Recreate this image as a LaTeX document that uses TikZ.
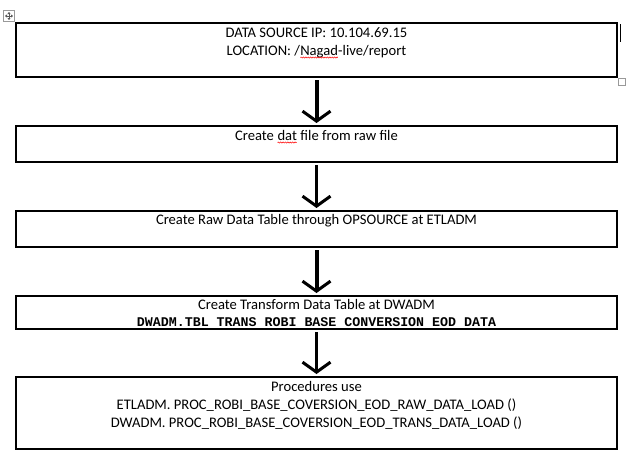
\documentclass[tikz,border=0pt]{standalone}
\usepackage{fontspec}
\setmainfont{Carlito}
\newfontfamily\monobold{Liberation Mono}[BoldFont={* Bold}]
\usetikzlibrary{arrows.meta,decorations.pathmorphing}
\newcommand\redwave[1]{\tikz[baseline=(w.base)]{\node[inner sep=0pt,outer sep=0pt,anchor=base,draw=none] (w) at (0,0) {#1};
  \draw[red, line width=0.5pt, decorate, decoration={snake, amplitude=0.6pt, segment length=2.4pt}] ([yshift=-2.5pt]w.base west) -- ([yshift=-2.5pt]w.base east);}}
\tikzset{
  box/.style={draw=black, line width=1.5pt, minimum width=601pt, anchor=north west, inner sep=0pt, outer sep=0pt},
  txt/.style={font=\fontsize{14.6}{17}\selectfont, anchor=base, inner sep=0pt},
  mono/.style={font=\monobold\bfseries\fontsize{13.3}{16}\selectfont, anchor=base, inner sep=0pt},
  flow/.style={draw=black, -{Straight Barb[length=10pt,width=28pt,line width=3pt]}, shorten <=3pt, shorten >=3pt},
  gbox/.style={draw=gray!80, line width=1pt}
}
\begin{document}
\begin{tikzpicture}[x=1pt,y=-1pt]
\useasboundingbox (0,0) rectangle (637,471);
% boxes
\node[box, minimum height=54pt] (b1) at (16,23) {};
\node[box, minimum height=36pt] (b2) at (16,126) {};
\node[box, minimum height=36pt] (b3) at (16,211) {};
\node[box, minimum height=33pt] (b4) at (16,296) {};
\node[box, minimum height=72pt] (b5) at (16,377) {};
% texts
\node[txt] (t11) at (316.5,37.5) {DATA SOURCE IP: 10.104.69.15};
\node[txt] (t12) at (316.5,55) {LOCATION: /\redwave{Nagad}-live/report};
\node[txt] (t2) at (316.5,140) {Create \redwave{dat} file from raw file};
\node[txt] (t3) at (316.5,224.5) {Create Raw Data Table through OPSOURCE at ETLADM};
\node[txt] (t41) at (316.5,309) {Create Transform Data Table at DWADM};
\node[mono] (t42) at (316.5,326) {DWADM.TBL TRANS ROBI BASE CONVERSION EOD DATA};
\node[txt] (t51) at (316.5,391) {Procedures use};
\node[txt] (t52) at (316.5,409) {ETLADM. PROC\_ROBI\_BASE\_COVERSION\_EOD\_RAW\_DATA\_LOAD ()};
\node[txt] (t53) at (316.5,427) {DWADM. PROC\_ROBI\_BASE\_COVERSION\_EOD\_TRANS\_DATA\_LOAD ()};
% arrows
\draw[flow, line width=4pt] (b1.south) -- (b2.north);
\draw[flow, line width=3.5pt] (b2.south) -- (b3.north);
\draw[flow, line width=4pt] (b3.south) -- (b4.north);
\draw[flow, line width=3.5pt] (b4.south) -- (b5.north);
% word-editor handles
\node[gbox, minimum size=11pt, inner sep=0pt] (mv) at (9,16) {};
\draw[gray!70!black, line width=0.8pt, {Triangle[length=2pt,width=3pt]}-{Triangle[length=2pt,width=3pt]}] ([xshift=2pt]mv.west) -- ([xshift=-2pt]mv.east);
\draw[gray!70!black, line width=0.8pt, {Triangle[length=2pt,width=3pt]}-{Triangle[length=2pt,width=3pt]}] ([yshift=-2pt]mv.north) -- ([yshift=2pt]mv.south);
\node[gbox, minimum size=7pt, inner sep=0pt, line width=0.8pt] (rs) at (621.5,82) {};
\coordinate (c1) at (620,24);
\coordinate (c2) at (620,42);
\draw[black, line width=0.8pt] (c1) -- (c2);
\end{tikzpicture}
\end{document}
